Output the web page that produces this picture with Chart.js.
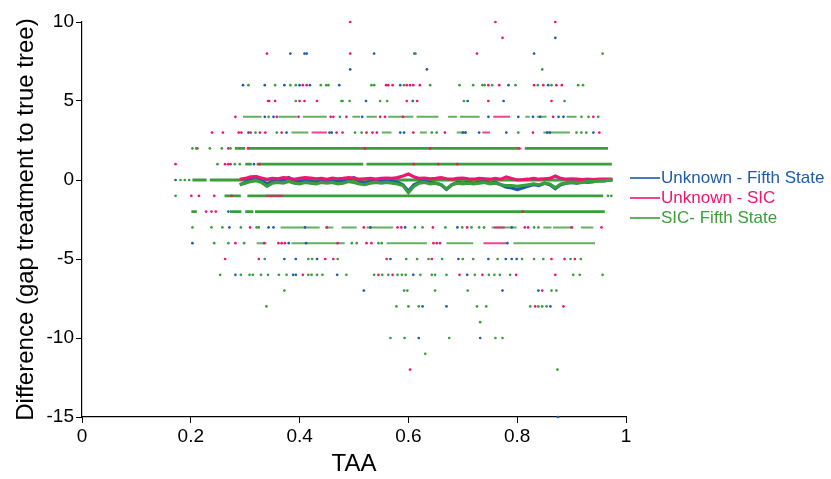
<!DOCTYPE html>
<html>
<head>
<meta charset="utf-8">
<script src="https://cdn.jsdelivr.net/npm/chart.js@4.4.1/dist/chart.umd.min.js"></script>
<style>
  html, body { margin: 0; padding: 0; background: #ffffff; }
  #wrap { width: 831px; height: 479px; position: relative; }
</style>
</head>
<body>
<div id="wrap"><canvas id="c" width="831" height="479"></canvas></div>
<script>
// ---------------- DATA ----------------
const seriesNames = ['Unknown - Fifth State', 'Unknown - SIC', 'SIC- Fifth State'];
const xTickLabels = ['0', '0.2', '0.4', '0.6', '0.8', '1'];
const yTickValues = [10, 5, 0, -5, -10, -15];

// isolated points: [difference level, [TAA values]]
const unknownFifthPts = [
  [9, [0.870]],
  [8, [0.383, 0.409, 0.413, 0.537, 0.611, 0.831]],
  [7, [0.493, 0.634]],
  [6, [0.296, 0.336, 0.372, 0.400, 0.419, 0.473, 0.585, 0.784, 0.857]],
  [5, [0.522, 0.608, 0.709, 0.775]],
  [4, [0.336, 0.352, 0.515, 0.747, 0.802, 0.829, 0.842, 0.876, 0.885]],
  [3, [0.306, 0.376, 0.455, 0.459, 0.585, 0.592, 0.700, 0.705, 0.730, 0.780, 0.855, 0.860, 0.940]],
  [1, [0.316]],
  [0, [0.172]],
  [-2, [0.269]],
  [-3, [0.271, 0.343, 0.352, 0.410, 0.530, 0.594, 0.690, 0.790]],
  [-4, [0.203, 0.380, 0.412, 0.782]],
  [-5, [0.372, 0.393, 0.432, 0.567, 0.692, 0.747, 0.779, 0.790, 0.799]],
  [-6, [0.282, 0.388, 0.393, 0.469, 0.609, 0.708]],
  [-7, [0.518, 0.773, 0.839]],
  [-8, [0.626, 0.670, 0.861]],
  [-10, [0.619, 0.732]],
  [-15, [0.875]]
];
const unknownSicPts = [
  [10, [0.493, 0.760, 0.870]],
  [9, [0.773]],
  [8, [0.340, 0.493, 0.726]],
  [6, [0.406, 0.413, 0.559, 0.563, 0.571, 0.597, 0.603, 0.609, 0.621, 0.747, 0.767, 0.831, 0.848, 0.872, 0.882]],
  [5, [0.342, 0.344, 0.355, 0.400, 0.409, 0.432, 0.597, 0.616, 0.747, 0.863]],
  [4, [0.282, 0.358, 0.398, 0.457, 0.462, 0.486, 0.548, 0.557, 0.590, 0.866, 0.940]],
  [3, [0.239, 0.259, 0.288, 0.293, 0.310, 0.327, 0.337, 0.367, 0.468, 0.479, 0.523, 0.534, 0.542, 0.609, 0.667, 0.829, 0.951]],
  [2, [0.212, 0.269, 0.305, 0.520, 0.640]],
  [1, [0.172, 0.263, 0.269, 0.273, 0.326, 0.610, 0.655, 0.690]],
  [-1, [0.201, 0.215, 0.243, 0.275]],
  [-2, [0.228, 0.238, 0.246, 0.810]],
  [-3, [0.309, 0.450, 0.518, 0.580, 0.587, 0.645, 0.708, 0.814, 0.820, 0.900, 0.955]],
  [-4, [0.282, 0.335, 0.361, 0.367, 0.373, 0.470, 0.523, 0.532, 0.646, 0.652, 0.658]],
  [-5, [0.263, 0.325, 0.447, 0.462, 0.560, 0.643, 0.863, 0.887, 0.906]],
  [-6, [0.406, 0.545, 0.571, 0.694, 0.736, 0.798, 0.870]],
  [-7, [0.846]],
  [-8, [0.833, 0.885]],
  [-12, [0.603]]
];
const sicFifthPts = [
  [8, [0.613, 0.957]],
  [7, [0.846]],
  [6, [0.306, 0.355, 0.383, 0.393, 0.439, 0.449, 0.453, 0.532, 0.537, 0.592, 0.640, 0.694, 0.719, 0.736, 0.740, 0.754, 0.797, 0.838, 0.863, 0.912, 0.921]],
  [5, [0.393, 0.477, 0.479, 0.492, 0.548, 0.561, 0.702, 0.887]],
  [4, [0.343, 0.474, 0.918, 0.931, 0.949]],
  [3, [0.319, 0.358, 0.502, 0.514, 0.643, 0.652, 0.802, 0.909, 0.918, 0.927]],
  [2, [0.203, 0.210, 0.235, 0.257, 0.273]],
  [1, [0.249, 0.281, 0.290]],
  [0, [0.181, 0.189, 0.197]],
  [-1, [0.172, 0.967, 0.973]],
  [-3, [0.203, 0.238, 0.258, 0.292, 0.321, 0.325, 0.612, 0.626, 0.668, 0.699, 0.716, 0.730, 0.739, 0.831, 0.839]],
  [-4, [0.243, 0.269, 0.298, 0.496, 0.505, 0.545, 0.551]],
  [-5, [0.336, 0.416, 0.423, 0.470, 0.596, 0.616, 0.637, 0.662, 0.700, 0.719, 0.764, 0.809, 0.831, 0.848, 0.898, 0.917]],
  [-6, [0.254, 0.292, 0.308, 0.314, 0.329, 0.342, 0.362, 0.376, 0.416, 0.422, 0.432, 0.442, 0.486, 0.537, 0.552, 0.563, 0.580, 0.588, 0.595, 0.622, 0.643, 0.649, 0.670, 0.722, 0.748, 0.758, 0.768, 0.787, 0.903, 0.915, 0.957]],
  [-7, [0.372, 0.592, 0.598, 0.649, 0.709, 0.863, 0.872]],
  [-8, [0.339, 0.578, 0.600, 0.619, 0.726, 0.743, 0.824, 0.839, 0.846, 0.854]],
  [-9, [0.732]],
  [-10, [0.567, 0.593, 0.675, 0.760, 0.773]],
  [-11, [0.631]],
  [-12, [0.874]]
];

// runs of overlapping points (too dense to separate): [level, TAA start, TAA end]
const denseRuns = [
  [2, 0.281, 0.300], [2, 0.306, 0.805], [2, 0.814, 0.967],
  [1, 0.300, 0.312], [1, 0.321, 0.517], [1, 0.523, 0.974],
  [0, 0.203, 0.229], [0, 0.235, 0.975],
  [-1, 0.262, 0.292], [-1, 0.304, 0.958],
  [-2, 0.201, 0.211], [-2, 0.272, 0.293], [-2, 0.300, 0.315], [-2, 0.318, 0.961]
];
const sparseRuns = [
  [4, 0.296, 0.330], [4, 0.361, 0.395], [4, 0.406, 0.450], [4, 0.497, 0.511], [4, 0.523, 0.542], [4, 0.563, 0.609],
  [4, 0.615, 0.655], [4, 0.673, 0.689], [4, 0.695, 0.731], [4, 0.815, 0.823], [4, 0.836, 0.854], [4, 0.891, 0.909],
  [3, 0.385, 0.416], [3, 0.551, 0.569], [3, 0.621, 0.634], [3, 0.689, 0.707], [3, 0.848, 0.897],
  [-3, 0.365, 0.437], [-3, 0.447, 0.462], [-3, 0.477, 0.505], [-3, 0.523, 0.572], [-3, 0.753, 0.799],
  [-3, 0.848, 0.863], [-3, 0.866, 0.903], [-3, 0.917, 0.940],
  [-4, 0.321, 0.339], [-4, 0.385, 0.483], [-4, 0.560, 0.634], [-4, 0.670, 0.719], [-4, 0.793, 0.943]
];
const pinkRuns = [
  [4, 0.756, 0.787], [3, 0.422, 0.450], [3, 0.736, 0.750], [2, 0.800, 0.808],
  [-1, 0.338, 0.370], [-3, 0.757, 0.777], [-4, 0.738, 0.780]
];

// running means
const meanX = [0.29,0.30,0.31,0.32,0.33,0.34,0.35,0.36,0.37,0.38,0.39,0.40,0.41,0.42,0.43,0.44,0.45,0.46,0.47,0.48,0.49,0.50,0.51,0.52,0.53,0.54,0.55,0.56,0.57,0.58,0.59,0.60,0.61,0.62,0.63,0.64,0.65,0.66,0.67,0.68,0.69,0.70,0.71,0.72,0.73,0.74,0.75,0.76,0.77,0.78,0.79,0.80,0.81,0.82,0.83,0.84,0.85,0.86,0.87,0.88,0.89,0.90,0.91,0.92,0.93,0.94,0.95,0.96,0.97,0.975];
const unknownFifthMean = [-0.3,-0.15,0.1,0.2,0.0,-0.25,-0.1,-0.05,0.0,0.15,-0.05,-0.1,-0.05,-0.1,-0.15,-0.05,-0.1,-0.05,-0.1,-0.05,0.0,0.15,-0.1,-0.2,-0.1,-0.05,-0.1,-0.05,-0.1,-0.15,-0.3,-0.7,-0.3,-0.15,-0.1,-0.15,-0.2,-0.3,-0.6,-0.3,-0.15,-0.2,-0.15,-0.2,-0.15,-0.1,-0.2,-0.15,-0.3,-0.45,-0.5,-0.6,-0.5,-0.4,-0.3,-0.35,-0.2,-0.3,-0.55,-0.3,-0.2,-0.15,-0.2,-0.1,-0.15,-0.1,-0.05,-0.05,0.0,0.0];
const unknownSicMean = [0.05,0.1,0.2,0.22,0.12,0.05,0.1,0.08,0.15,0.12,0.05,0.1,0.15,0.12,0.08,0.1,0.05,0.12,0.08,0.1,0.15,0.12,0.05,0.08,0.1,0.06,0.1,0.12,0.1,0.15,0.25,0.38,0.2,0.1,0.12,0.08,0.1,0.15,0.08,0.05,0.1,0.12,0.08,0.05,0.1,0.08,0.05,0.1,0.05,0.2,0.1,0.0,0.02,0.05,0.1,0.05,0.08,0.1,0.25,0.1,0.05,0.08,0.05,0.02,0.05,0.03,0.05,0.05,0.05,0.05];
const sicFifthMean = [-0.3,-0.2,-0.1,-0.05,-0.15,-0.4,-0.2,-0.15,-0.2,-0.1,-0.2,-0.25,-0.15,-0.2,-0.25,-0.15,-0.2,-0.15,-0.25,-0.2,-0.1,-0.15,-0.25,-0.3,-0.2,-0.15,-0.2,-0.15,-0.2,-0.25,-0.35,-0.8,-0.4,-0.2,-0.15,-0.25,-0.2,-0.3,-0.55,-0.3,-0.2,-0.25,-0.2,-0.25,-0.2,-0.15,-0.25,-0.2,-0.3,-0.35,-0.35,-0.4,-0.35,-0.3,-0.25,-0.3,-0.2,-0.25,-0.5,-0.25,-0.2,-0.15,-0.2,-0.15,-0.1,-0.1,-0.05,-0.05,0.0,0.0];

// ---------------- STYLE ----------------
const COLORS = ['#1d5bb0', '#f0156e', '#3a9e3a'];
const FONT = '"Liberation Sans", Arial, Helvetica, sans-serif';

const toPts = rows => rows.flatMap(([y, xs]) => xs.map(x => ({ x, y })));
const toRuns = runs => runs.flatMap(([y, a, b]) => [{ x: a, y }, { x: b, y }, { x: b, y: null }]);
const toLine = ys => meanX.map((x, i) => ({ x, y: ys[i] }));

const pointDs = (data, color, order) => ({
  data, showLine: false, pointRadius: 1.35, pointHoverRadius: 1.35, pointBorderWidth: 0,
  backgroundColor: color, borderColor: color, order, clip: false
});
const lineDs = (label, data, color, width, order) => ({
  label, data, showLine: true, pointRadius: 0, borderWidth: width, borderColor: color,
  backgroundColor: color, spanGaps: false, tension: 0, order, fill: false, clip: false
});

const legendPlugin = {
  id: 'sideLegend',
  afterDraw(chart) {
    const ctx = chart.ctx;
    const x0 = 630, len = 30, ys = [178, 198, 218];
    ctx.save();
    ctx.font = '17px ' + FONT;
    ctx.textBaseline = 'middle';
    seriesNames.forEach((name, i) => {
      ctx.strokeStyle = COLORS[i];
      ctx.lineWidth = 1.6;
      ctx.beginPath();
      ctx.moveTo(x0, ys[i]);
      ctx.lineTo(x0 + len, ys[i]);
      ctx.stroke();
      ctx.fillStyle = COLORS[i];
      ctx.fillText(name, x0 + len + 1, ys[i]);
    });
    ctx.restore();
  }
};

new Chart(document.getElementById('c'), {
  type: 'scatter',
  data: {
    datasets: [
      lineDs(seriesNames[2], toLine(sicFifthMean), COLORS[2], 3.2, 1),
      lineDs(seriesNames[1], toLine(unknownSicMean), COLORS[1], 3.2, 2),
      lineDs(seriesNames[0], toLine(unknownFifthMean), COLORS[0], 3.2, 3),
      pointDs(toPts(sicFifthPts), COLORS[2], 4),
      pointDs(toPts(unknownSicPts), COLORS[1], 5),
      pointDs(toPts(unknownFifthPts), COLORS[0], 6),
      lineDs('runs', toRuns(pinkRuns), 'rgba(240,21,110,0.8)', 2, 7),
      lineDs('runs', toRuns(sparseRuns), 'rgba(58,158,58,0.8)', 2, 8),
      lineDs('dense', toRuns(denseRuns), COLORS[2], 2.8, 9)
    ]
  },
  options: {
    responsive: false,
    animation: false,
    devicePixelRatio: 1,
    layout: { padding: { left: 0, right: 205, top: 22, bottom: 0 } },
    plugins: { legend: { display: false }, tooltip: { enabled: false } },
    scales: {
      x: {
        type: 'linear', min: 0, max: 1,
        afterBuildTicks: s => { s.ticks = xTickLabels.map(t => ({ value: parseFloat(t) })); },
        afterFit: s => { s.height = 62; },
        ticks: {
          color: '#000', font: { family: FONT, size: 19 }, padding: 2, maxRotation: 0,
          callback: (v, i) => xTickLabels[i]
        },
        grid: { display: true, drawOnChartArea: false, drawTicks: true, tickLength: 6, color: '#000', lineWidth: 1 },
        border: { display: true, color: '#000', width: 1.2 },
        title: { display: true, text: 'TAA', color: '#000', font: { family: FONT, size: 24 }, padding: { top: 0, bottom: 0 } }
      },
      y: {
        type: 'linear', min: -15, max: 10,
        afterBuildTicks: s => { s.ticks = yTickValues.map(v => ({ value: v })); },
        afterFit: s => { s.width = 82; },
        ticks: { color: '#000', font: { family: FONT, size: 19 }, padding: 2 },
        grid: { display: true, drawOnChartArea: false, drawTicks: true, tickLength: 6, color: '#000', lineWidth: 1 },
        border: { display: true, color: '#000', width: 1.2 },
        title: { display: true, text: 'Difference (gap treatment to true tree)', color: '#000', font: { family: FONT, size: 24 }, padding: { top: 12, bottom: 0 } }
      }
    }
  },
  plugins: [legendPlugin]
});
</script>
</body>
</html>
